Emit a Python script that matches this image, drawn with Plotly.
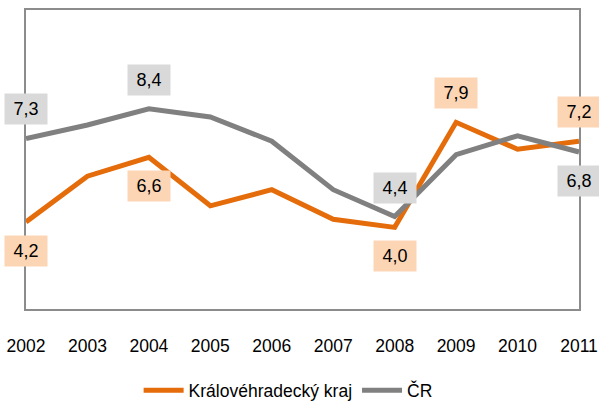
import plotly.graph_objects as go

years = [2002, 2003, 2004, 2005, 2006, 2007, 2008, 2009, 2010, 2011]
kraj = [4.2, 5.9, 6.6, 4.8, 5.4, 4.3, 4.0, 7.9, 6.9, 7.2]
cr = [7.3, 7.8, 8.4, 8.1, 7.2, 5.4, 4.4, 6.7, 7.4, 6.8]
kraj_name = "Královéhradecký kraj"
cr_name = "ČR"

# which points carry a data label, and whether above (+1) or below (-1)
kraj_labels = {2002: -1, 2004: -1, 2008: -1, 2009: 1, 2011: 1}
cr_labels = {2002: 1, 2004: 1, 2008: 1, 2011: -1}

ORANGE = "#E46C0A"
GREY = "#808080"
FONT = "Liberation Sans, Arial, sans-serif"

fig = go.Figure()
fig.add_trace(go.Scatter(x=years, y=kraj, mode="lines", name=kraj_name,
                         line=dict(color=ORANGE, width=5)))
fig.add_trace(go.Scatter(x=years, y=cr, mode="lines", name=cr_name,
                         line=dict(color=GREY, width=5)))

def fmt(v):
    return f"{v:.1f}".replace(".", ",")

for series, labels, bg in ((kraj, kraj_labels, "#FCD5B5"), (cr, cr_labels, "#D9D9D9")):
    for yr, side in labels.items():
        v = series[years.index(yr)]
        fig.add_annotation(x=yr, y=v, text=fmt(v), showarrow=False,
                           yshift=29 * side, bgcolor=bg, width=42, height=30,
                           borderpad=0, font=dict(family=FONT, size=18, color="#000"))

fig.update_layout(
    width=599, height=404,
    margin=dict(l=26, r=20, t=10, b=95, autoexpand=False),
    paper_bgcolor="white", plot_bgcolor="white",
    font=dict(family=FONT, size=17, color="#000"),
    showlegend=True,
    legend=dict(orientation="h", x=0.474, xanchor="center", y=-0.272, yanchor="middle",
                font=dict(family=FONT, size=17.5), itemwidth=40, tracegroupgap=0),
)
fig.update_xaxes(range=[2002, 2011], tickmode="array", tickvals=years,
                 ticktext=[str(y) for y in years], showgrid=False, zeroline=False,
                 showline=True, mirror=True, linecolor="#8C8C8C", linewidth=2,
                 ticks="", ticklabelstandoff=20, tickfont=dict(size=17.5),
                 automargin=False)
fig.update_yaxes(range=[0.97, 12.07], showticklabels=False, showgrid=False,
                 zeroline=False, showline=True, mirror=True, linecolor="#8C8C8C",
                 linewidth=2, ticks="", automargin=False)

fig.write_html("out.html", config={"displayModeBar": False},
               post_script="document.body.style.margin='0';document.body.style.overflow='hidden';")
